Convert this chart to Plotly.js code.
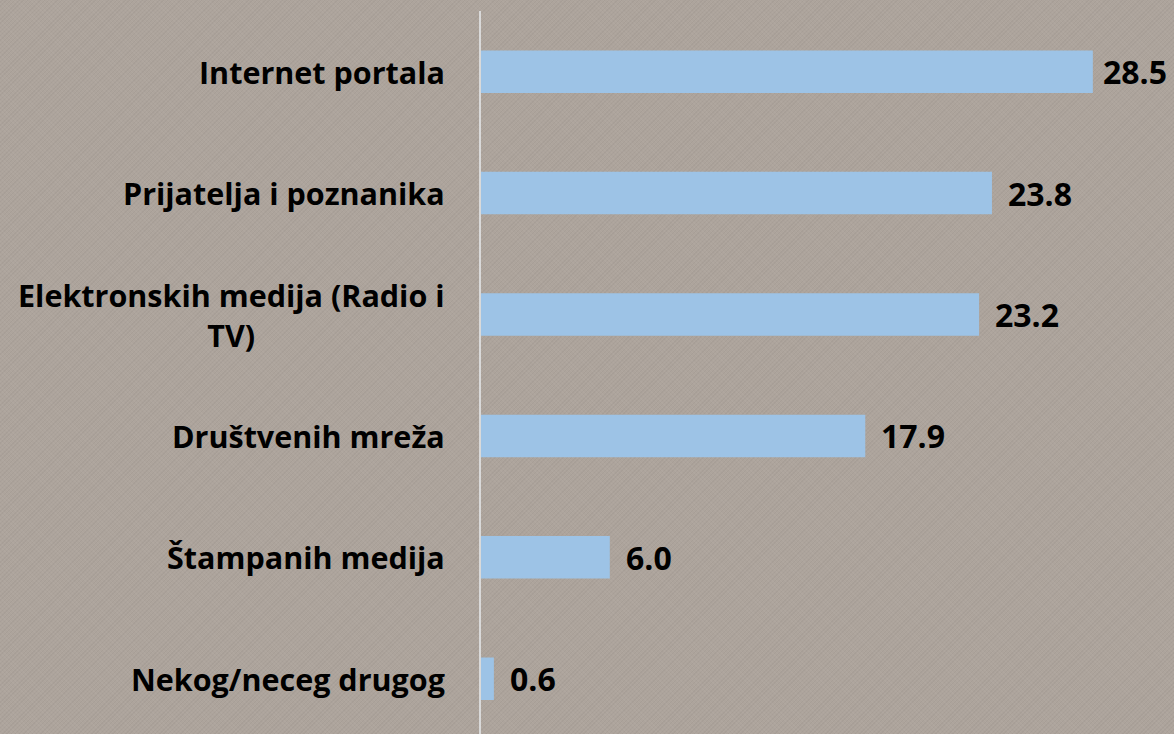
<!DOCTYPE html>
<html>
<head>
<meta charset="utf-8">
<script src="https://cdn.plot.ly/plotly-3.0.1.min.js"></script>
<style>
  html, body { margin: 0; padding: 0; }
  body {
    width: 1174px; height: 734px; overflow: hidden;
    background-color: #ada49c;
    background-image:
      repeating-linear-gradient(45deg, rgba(255,255,255,0.035) 0px, rgba(255,255,255,0.035) 1px, rgba(0,0,0,0) 1px, rgba(0,0,0,0) 3px),
      repeating-linear-gradient(-45deg, rgba(0,0,0,0.035) 0px, rgba(0,0,0,0.035) 1px, rgba(0,0,0,0) 1px, rgba(0,0,0,0) 3px);
  }
  #chart { width: 1174px; height: 734px; }
</style>
</head>
<body>
<div id="chart"></div>
<script>
const categories = [
  "Internet portala",
  "Prijatelja i poznanika",
  "Elektronskih medija (Radio i<br>TV)",
  "Društvenih mreža",
  "Štampanih medija",
  "Nekog/neceg drugog"
];
const values = [28.5, 23.8, 23.2, 17.9, 6.0, 0.6];
const valueLabels = values.map(v => v.toFixed(1));

const FONT = "Open Sans, Liberation Sans, sans-serif";

const trace = {
  type: "bar",
  orientation: "h",
  x: values,
  y: categories,
  marker: { color: "#9dc3e6" },
  width: 0.35,
  hoverinfo: "none"
};

const catAnnotations = categories.map(c => ({
  xref: "paper", yref: "y",
  x: 0, y: c,
  xanchor: "right", yanchor: "middle",
  xshift: -34,
  align: "center",
  text: "<b>" + c + "</b>",
  showarrow: false,
  font: { family: FONT, size: 30.5, color: "#000000" }
}));

const maxVal = Math.max(...values);
const valAnnotations = categories.map((c, i) => ({
  xref: "x", yref: "y",
  x: values[i], y: c,
  xanchor: "left", yanchor: "middle",
  xshift: values[i] === maxVal ? 8 : 14,
  text: "<b>" + valueLabels[i] + "</b>",
  showarrow: false,
  font: { family: FONT, size: 32, color: "#000000" }
}));

const layout = {
  width: 1174, height: 734,
  margin: { l: 481, r: 0, t: 11, b: 0, pad: 0 },
  paper_bgcolor: "rgba(0,0,0,0)",
  plot_bgcolor: "rgba(0,0,0,0)",
  showlegend: false,
  xaxis: {
    range: [0, 32.28],
    showgrid: false, zeroline: false, showticklabels: false,
    showline: false, ticks: ""
  },
  yaxis: {
    type: "category",
    range: [5.455, -0.5],
    showgrid: false, zeroline: false, showticklabels: false,
    showline: true, linecolor: "#d9d9d9", linewidth: 2, ticks: ""
  },
  annotations: catAnnotations.concat(valAnnotations)
};

Plotly.newPlot("chart", [trace], layout, { staticPlot: true, displayModeBar: false });
</script>
</body>
</html>
